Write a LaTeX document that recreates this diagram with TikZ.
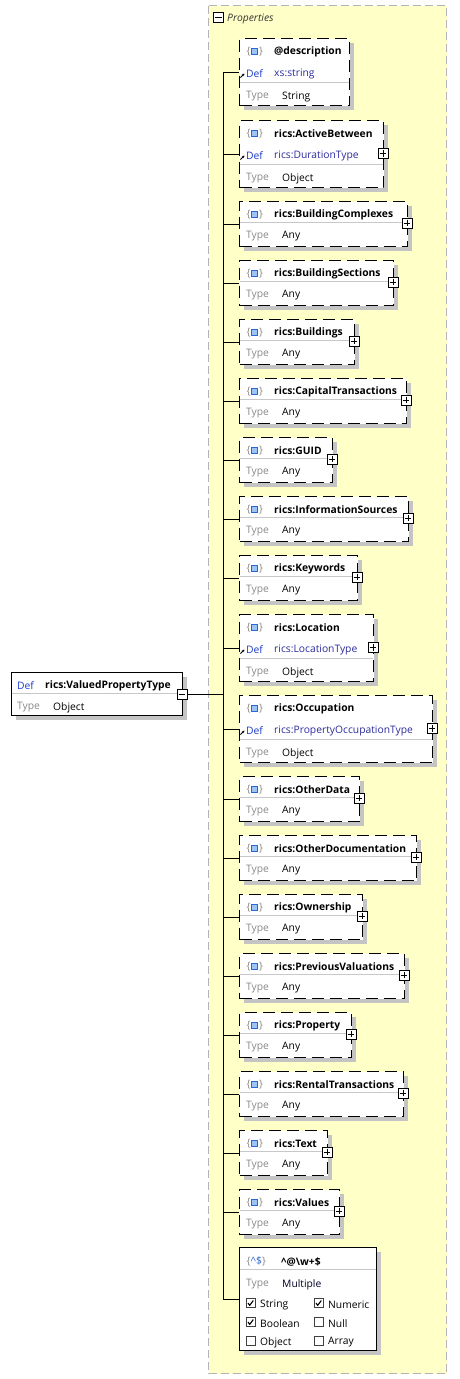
\documentclass[tikz,border=0pt]{standalone}
\usepackage{fontspec}
\setmainfont{Open Sans}
\usetikzlibrary{shadows,arrows.meta}
\definecolor{propyellow}{HTML}{FFFFC8}
\definecolor{propborder}{HTML}{B4B4B4}
\definecolor{shadowgray}{HTML}{C4C4C4}
\definecolor{sepgray}{HTML}{C8C8C8}
\definecolor{defblue}{HTML}{1A3CC8}
\definecolor{typeblue}{HTML}{2C2CA0}
\definecolor{lblgray}{HTML}{8A8A8A}
\definecolor{iconblue}{HTML}{2A66D8}
\definecolor{iconfill}{HTML}{9CC4F4}
\tikzset{
  elbox/.style={draw, line width=1pt, fill=white, inner sep=0pt, anchor=north west,
    drop shadow={shadow xshift=4pt, shadow yshift=-4pt, fill=shadowgray, opacity=1}},
  dashbox/.style={elbox, dash pattern=on 12pt off 6pt},
  txt/.style={anchor=west, inner sep=0pt, yshift=-2.5pt, font=\fontsize{10.3}{12}\selectfont},
  nametxt/.style={txt, font=\fontsize{10.3}{12}\selectfont\bfseries},
  lbl/.style={txt, text=lblgray},
  deftxt/.style={txt, text=defblue},
  typetxt/.style={txt, text=typeblue},
  sepline/.style={draw=sepgray, line width=0.8pt},
  conn/.style={draw, line width=1pt},
  pmbox/.style={draw, fill=white, line width=0.8pt, minimum size=10pt, inner sep=0pt},
  chk/.style={draw=black!75, fill=white, line width=0.7pt, minimum size=9pt, inner sep=0pt},
}
\newcommand{\drawplus}[1]{\draw[line width=0.8pt] ([xshift=2pt]#1.west) -- ([xshift=-2pt]#1.east); \draw[line width=0.8pt] ([yshift=-2pt]#1.north) -- ([yshift=2pt]#1.south);}
\newcommand{\drawminus}[1]{\draw[line width=0.8pt] ([xshift=2pt]#1.west) -- ([xshift=-2pt]#1.east);}
\newcommand{\elicon}[2]{%
  \node[txt, text=lblgray] at (#1-1.5,#2) {\{};
  \draw[draw=iconblue, fill=iconfill, line width=1pt] (#1+3.5,#2-0.5) rectangle (#1+9,#2+5);
  \node[txt, text=lblgray] at (#1+11,#2) {\}};}
\newcommand{\defarrow}[2]{\draw[-{Stealth[length=2.6pt,width=2.6pt]}, line width=0.9pt] (#1,#2+4) -- (#1+4,#2);}
\begin{document}
\begin{tikzpicture}[x=1pt,y=-1pt]
\useasboundingbox (0,0) rectangle (459,1379);
% properties region
\draw[fill=propyellow, draw=propborder, line width=0.8pt, dash pattern=on 8pt off 4pt] (208.5,5.5) rectangle (446.5,1373.5);
\node[pmbox, anchor=north west] (propminus) at (213,12) {};
\drawminus{propminus}
\node[txt, font=\fontsize{10.3}{12}\selectfont\itshape, text=black!80, yshift=1pt] (proplbl) at (227,17) {Properties};
\coordinate (trunk) at (223,72);

% main element
\node[elbox, minimum width=171pt, minimum height=43pt] (main) at (11,672) {};
\draw[sepline] (11.5,693.5) -- (181.5,693.5);
\node[deftxt] at (17,683) {Def};
\node[nametxt] at (45,683) {rics:ValuedPropertyType};
\node[lbl] at (17,705) {Type};
\node[txt] at (53,705) {Object};
\node[pmbox] (mainminus) at (182,694) {};
\drawminus{mainminus}
\draw[conn] (mainminus.east) -- (mainminus.east -| trunk);

% elements with definitions
\foreach \nm/\t/\r/\df/\ty/\pl [count=\i] in {
  @description/38/349/xs:string/String/0,
  rics:ActiveBetween/120/383/rics:DurationType/Object/1,
  rics:Location/614/373/rics:LocationType/Object/1,
  rics:Occupation/695/432/rics:PropertyOccupationType/Object/1}{
  \pgfmathsetmacro\w{\r-239}
  \node[dashbox, minimum width=\w pt, minimum height=67pt] (d\i) at (239,\t) {};
  \draw[conn] (d\i.west -| trunk) -- (d\i.west);
  \elicon{248}{\t+11}
  \node[nametxt] at (274,\t+11) {\nm};
  \defarrow{240.5}{\t+35.5}
  \node[deftxt] at (246,\t+33) {Def};
  \node[typetxt] at (274,\t+33.5) {\df};
  \draw[sepline] (239.5,\t+44.5) -- (\r-0.5,\t+44.5);
  \node[lbl] at (246,\t+56) {Type};
  \node[txt] at (282,\t+56) {\ty};
  \ifnum\pl=1
    \node[pmbox] (dp\i) at (\r,\t+33.5) {};
    \drawplus{dp\i}
  \fi
}

% elements of type Any
\foreach \nm/\t/\r [count=\i] in {
  BuildingComplexes/201/407, BuildingSections/260/393, Buildings/319/354,
  CapitalTransactions/378/406, GUID/437/332, InformationSources/496/408,
  Keywords/555/357, OtherData/776/359, OtherDocumentation/835/416,
  Ownership/894/362, PreviousValuations/953/404, Property/1012/351,
  RentalTransactions/1071/403, Text/1130/327, Values/1189/339}{
  \pgfmathsetmacro\w{\r-239}
  \node[dashbox, minimum width=\w pt, minimum height=45pt] (a\i) at (239,\t) {};
  \draw[conn] (a\i.west -| trunk) -- (a\i.west);
  \elicon{248}{\t+11}
  \node[nametxt] at (274,\t+11) {rics:\nm};
  \draw[sepline] (239.5,\t+21.5) -- (\r-0.5,\t+21.5);
  \node[lbl] at (246,\t+33) {Type};
  \node[txt] at (282,\t+33) {Any};
  \node[pmbox] (ap\i) at (\r,\t+22) {};
  \drawplus{ap\i}
}

% pattern property
\node[elbox, minimum width=137pt, minimum height=103pt] (pat) at (239,1247) {};
\draw[conn] (trunk) -- (pat.west -| trunk) -- (pat.west);
\node[txt] at (246.5,1259) {\textcolor{lblgray}{\{}\textcolor{iconblue}{\textasciicircum\$}\textcolor{lblgray}{\}}};
\node[nametxt] at (281,1259) {\textasciicircum @\textbackslash w+\$};
\draw[sepline] (239.5,1269.5) -- (375.5,1269.5);
\node[lbl] at (246,1282) {Type};
\node[typetxt, text=black!85!blue] at (282,1282) {Multiple};
\foreach \lab/\cx/\cy/\ck [count=\j] in {String/250.5/1303/1, Numeric/318.5/1303/1,
  Boolean/250.5/1322/1, Null/318.5/1322/0, Object/250.5/1341/0, Array/318.5/1341/0}{
  \node[chk] (c\j) at (\cx,\cy) {};
  \ifnum\ck=1
    \draw[line width=1.1pt] (\cx-2.5,\cy) -- (\cx-0.8,\cy+2.3) -- (\cx+2.8,\cy-2.5);
  \fi
  \node[txt, yshift=1pt] at (\cx+9.5,\cy) {\lab};
}
\end{tikzpicture}
\end{document}
